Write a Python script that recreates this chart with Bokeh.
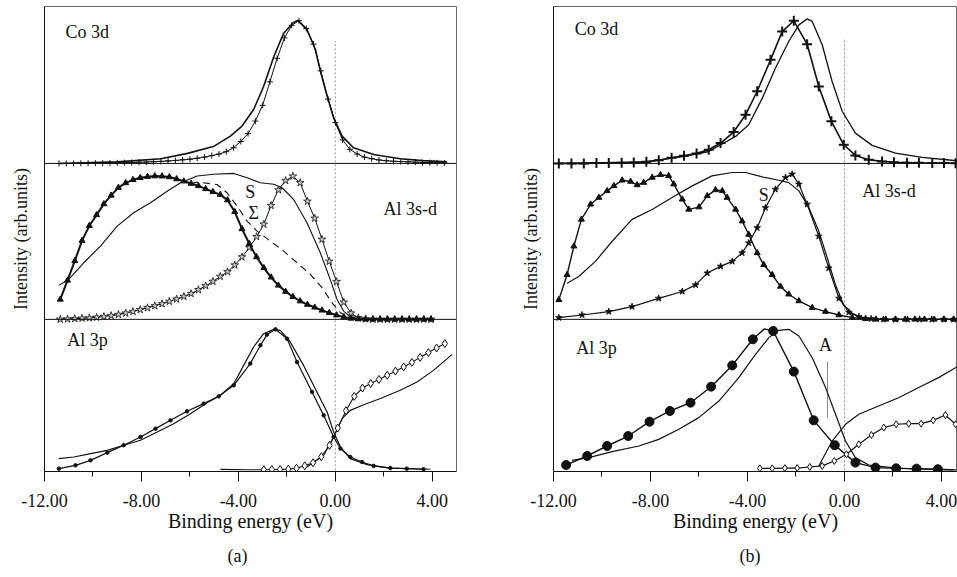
from bokeh.plotting import figure
from bokeh.layouts import row
from bokeh.models import Range1d, FixedTicker, PrintfTickFormatter, Span, Title
from bokeh.core.properties import value
from bokeh.embed import file_html
from bokeh.resources import INLINE

FONT = "'Liberation Serif', 'Times New Roman', serif"
INK = "#111111"

# ---------------- panel (a) ----------------
a_co_solid_E = [-11.4, -9.0, -7.2, -6.1, -5.0, -4.33, -3.85, -3.37, -2.96, -2.54, -2.13, -1.72, -1.54, -1.17,
                -0.82, -0.62, -0.41, -0.07, 0.28, 0.75, 1.58, 2.68, 3.6, 4.6]
a_co_solid_I = [0.0, 0.01, 0.03, 0.064, 0.11, 0.174, 0.238, 0.344, 0.49, 0.68, 0.83, 0.90, 0.91, 0.853,
                0.726, 0.59, 0.47, 0.29, 0.174, 0.10, 0.057, 0.03, 0.018, 0.01]
a_co_plus_E = [-11.4, -11.1, -10.8, -10.5, -10.2, -9.9, -9.6, -9.3, -9.0, -8.7, -8.4, -8.1, -7.8, -7.5, -7.2,
               -6.9, -6.6, -6.3, -6.0, -5.7, -5.4, -5.1, -4.8, -4.5, -4.2, -3.9, -3.6, -3.3, -3.0, -2.7, -2.4,
               -2.1, -1.8, -1.5, -1.2, -0.9, -0.6, -0.3, 0.0, 0.3, 0.6, 0.9, 1.2, 1.5, 1.8, 2.1, 2.4, 2.7, 3.0,
               3.3, 3.6, 3.9, 4.2, 4.5]
a_co_plus_I = [0.0, 0.0, 0.0, 0.001, 0.001, 0.002, 0.002, 0.003, 0.004, 0.005, 0.006, 0.008, 0.009, 0.011, 0.013,
               0.016, 0.019, 0.023, 0.027, 0.033, 0.040, 0.050, 0.060, 0.075, 0.10, 0.14, 0.19, 0.27, 0.37, 0.52,
               0.67, 0.80, 0.88, 0.91, 0.86, 0.76, 0.59, 0.41, 0.26, 0.15, 0.09, 0.06, 0.04, 0.03, 0.022, 0.017,
               0.014, 0.012, 0.010, 0.008, 0.006, 0.005, 0.004, 0.003]

a_sd_tri_E = [-11.35, -11.05, -10.75, -10.45, -10.15, -9.85, -9.55, -9.25, -8.95, -8.65, -8.35, -8.05, -7.75,
              -7.45, -7.15, -6.85, -6.55, -6.25, -5.95, -5.65, -5.35, -5.05, -4.75, -4.45, -4.15, -3.85, -3.55,
              -3.25, -2.95, -2.65, -2.35, -2.05, -1.75, -1.45, -1.15, -0.85, -0.55, -0.25, 0.05, 0.35, 0.65,
              0.95, 1.25, 1.55, 1.85, 2.15, 2.45, 2.75, 3.05, 3.35, 3.65, 3.95]
a_sd_tri_I = [0.128, 0.25, 0.375, 0.505, 0.60, 0.67, 0.74, 0.795, 0.845, 0.875, 0.895, 0.908, 0.915, 0.919,
              0.918, 0.913, 0.90, 0.886, 0.871, 0.856, 0.837, 0.818, 0.80, 0.765, 0.69, 0.58, 0.485, 0.40, 0.33,
              0.27, 0.218, 0.178, 0.145, 0.117, 0.095, 0.077, 0.058, 0.042, 0.027, 0.015, 0.006, 0.002, 0.0,
              0.0, 0.0, 0.0, 0.0, 0.0, 0.0, 0.0, 0.0, 0.0]
a_sd_S_E = [-11.41, -11.0, -10.38, -9.69, -9.0, -8.32, -7.63, -6.94, -6.39, -5.70, -5.02, -4.19, -3.64, -3.09,
            -2.54, -2.20, -1.72, -1.17, -0.62, -0.21, 0.07, 0.34, 0.62, 1.0]
a_sd_S_I = [0.218, 0.256, 0.363, 0.47, 0.598, 0.684, 0.748, 0.822, 0.876, 0.919, 0.931, 0.936, 0.908, 0.876,
            0.866, 0.844, 0.769, 0.62, 0.427, 0.256, 0.128, 0.053, 0.017, 0.0]
a_sd_sigma_E = [-5.95, -5.70, -4.88, -4.47, -4.05, -3.64, -3.23, -2.68, -2.13, -1.58, -1.03, -0.55, -0.14, 0.21,
                0.62, 1.0]
a_sd_sigma_I = [0.871, 0.88, 0.865, 0.812, 0.726, 0.63, 0.566, 0.502, 0.438, 0.363, 0.288, 0.203, 0.107, 0.043,
                0.01, 0.0]
a_sd_star_E = [-11.35, -11.05, -10.75, -10.45, -10.15, -9.85, -9.55, -9.25, -8.95, -8.65, -8.35, -8.05, -7.75,
               -7.45, -7.15, -6.85, -6.55, -6.25, -5.95, -5.65, -5.35, -5.05, -4.75, -4.45, -4.15, -3.85, -3.55,
               -3.25, -2.95, -2.65, -2.35, -2.05, -1.75, -1.45, -1.15, -0.85, -0.55, -0.25, 0.05, 0.35, 0.65,
               0.95, 1.25, 1.55, 1.85, 2.15, 2.45, 2.75, 3.05, 3.35, 3.65, 3.95]
a_sd_star_I = [0.0, 0.002, 0.004, 0.007, 0.009, 0.013, 0.018, 0.024, 0.031, 0.04, 0.05, 0.062, 0.074, 0.087,
               0.10, 0.115, 0.13, 0.147, 0.165, 0.19, 0.215, 0.243, 0.275, 0.305, 0.348, 0.40, 0.46, 0.53, 0.61,
               0.73, 0.83, 0.89, 0.918, 0.876, 0.757, 0.648, 0.513, 0.372, 0.242, 0.11, 0.04, 0.01, 0.003,
               0.0, 0.0, 0.0, 0.0, 0.0, 0.0, 0.0, 0.0, 0.0]

a_p_solid_E = [-11.41, -10.79, -10.1, -9.41, -8.73, -8.04, -7.35, -6.67, -5.98, -5.29, -4.74, -4.19, -3.78,
               -3.37, -2.96, -2.54, -2.27, -1.86, -1.31, -0.76, -0.34, -0.07, 0.21, 0.62, 1.31, 2.27, 3.92]
a_p_solid_I = [0.077, 0.088, 0.11, 0.132, 0.166, 0.199, 0.254, 0.309, 0.375, 0.448, 0.497, 0.574, 0.695, 0.817,
               0.905, 0.934, 0.927, 0.85, 0.695, 0.519, 0.386, 0.254, 0.154, 0.077, 0.038, 0.015, 0.007]
a_p_dot_E = [-11.41, -10.72, -10.1, -9.41, -8.73, -8.04, -7.42, -6.80, -6.12, -5.43, -4.81, -4.19, -3.51, -3.09,
             -2.82, -2.47, -1.99, -1.58, -0.96, -0.48, -0.07, 0.21, 0.62, 1.10, 1.58, 2.27, 2.95, 3.64]
a_p_dot_I = [0.011, 0.033, 0.066, 0.117, 0.166, 0.221, 0.276, 0.331, 0.391, 0.442, 0.49, 0.563, 0.707, 0.828,
             0.899, 0.934, 0.872, 0.717, 0.519, 0.364, 0.221, 0.144, 0.088, 0.055, 0.029, 0.015, 0.011, 0.007]
a_p_dia_E = [-4.74, -3.6, -2.95, -2.62, -2.28, -1.94, -1.60, -1.26, -0.92, -0.58, -0.24, 0.10, 0.44, 0.78, 1.12,
             1.46, 1.80, 2.14, 2.48, 2.82, 3.16, 3.50, 3.84, 4.18, 4.52]
a_p_dia_I = [0.006, 0.004, 0.004, 0.005, 0.006, 0.008, 0.014, 0.03, 0.05, 0.09, 0.165, 0.28, 0.395, 0.49, 0.545,
             0.575, 0.602, 0.63, 0.657, 0.685, 0.715, 0.748, 0.78, 0.81, 0.84]
a_p_rise_E = [-1.17, -0.48, -0.07, 0.28, 0.62, 1.17, 1.86, 2.68, 3.37, 4.05, 4.81]
a_p_rise_I = [0.022, 0.099, 0.221, 0.342, 0.397, 0.435, 0.475, 0.53, 0.585, 0.662, 0.766]

# ---------------- panel (b) ----------------
b_co_plus_E = [-11.78, -11.26, -10.75, -10.23, -9.72, -9.19, -8.69, -8.17, -7.66, -7.13, -6.62, -6.10, -5.60,
               -5.11, -4.57, -4.08, -3.60, -3.05, -2.57, -2.09, -1.54, -1.06, -0.54, -0.03, 0.45, 1.00, 1.55,
               2.04, 2.58, 3.07, 3.62, 4.10, 4.58]
b_co_plus_I = [0.0, 0.0, 0.0, 0.002, 0.003, 0.004, 0.006, 0.01, 0.02, 0.036, 0.049, 0.064, 0.087, 0.13, 0.20,
               0.31, 0.46, 0.66, 0.84, 0.909, 0.76, 0.49, 0.268, 0.119, 0.051, 0.023, 0.013, 0.008, 0.005,
               0.004, 0.003, 0.002, 0.001]
b_co_solid_E = [-11.8, -8.2, -6.6, -5.6, -4.49, -3.95, -3.39, -2.85, -2.30, -1.88, -1.54, -1.33, -0.92, -0.51,
                -0.09, 0.45, 1.14, 2.10, 3.20, 4.65]
b_co_solid_I = [0.0, 0.01, 0.045, 0.076, 0.172, 0.246, 0.416, 0.607, 0.777, 0.883, 0.921, 0.905, 0.756, 0.522,
                0.331, 0.193, 0.115, 0.066, 0.038, 0.017]

b_sd_tri_E = [-11.78, -11.44, -11.16, -10.85, -10.47, -10.13, -9.79, -9.51, -9.17, -8.82, -8.55, -8.28, -7.93,
              -7.59, -7.25, -7.04, -6.69, -6.42, -6.0, -5.66, -5.32, -5.04, -4.84, -4.49, -4.22, -3.95, -3.6,
              -3.33, -2.98, -2.64, -2.30, -1.88, -1.33, -0.78, -0.23, 0.32, 0.87, 1.3, 1.7, 2.1, 2.5, 2.9, 3.3,
              3.7, 4.1, 4.5]
b_sd_tri_I = [0.125, 0.286, 0.469, 0.641, 0.738, 0.781, 0.824, 0.856, 0.892, 0.884, 0.862, 0.877, 0.91, 0.927,
              0.921, 0.867, 0.77, 0.705, 0.72, 0.792, 0.83, 0.824, 0.781, 0.705, 0.63, 0.544, 0.426, 0.35, 0.286,
              0.211, 0.161, 0.118, 0.075, 0.05, 0.028, 0.011, 0.004, 0.0, 0.0, 0.0, 0.0, 0.0, 0.0, 0.0, 0.0, 0.0]
b_sd_S_E = [-11.44, -10.96, -10.27, -9.58, -8.76, -7.93, -7.11, -6.28, -5.46, -4.63, -4.08, -3.39, -2.71, -2.30,
            -1.88, -1.47, -1.06, -0.71, -0.37, -0.03, 0.32, 0.73, 1.2, 4.5]
b_sd_S_I = [0.232, 0.275, 0.372, 0.501, 0.641, 0.705, 0.781, 0.856, 0.92, 0.942, 0.942, 0.914, 0.892, 0.877,
            0.824, 0.716, 0.566, 0.394, 0.221, 0.092, 0.039, 0.01, 0.0, 0.0]
b_sd_star_E = [-11.78, -10.82, -9.72, -8.76, -7.66, -6.69, -6.14, -5.66, -5.11, -4.63, -4.22, -3.95, -3.6,
               -3.26, -2.85, -2.43, -2.16, -1.88, -1.54, -1.06, -0.65, -0.23, 0.18, 0.59, 1.1, 1.6, 2.1, 2.6,
               3.1, 3.6, 4.1, 4.5]
b_sd_star_I = [0.011, 0.028, 0.05, 0.082, 0.135, 0.179, 0.221, 0.297, 0.34, 0.372, 0.426, 0.49, 0.587, 0.716,
               0.834, 0.91, 0.931, 0.867, 0.738, 0.533, 0.329, 0.135, 0.045, 0.017, 0.004, 0.0, 0.0, 0.0, 0.0,
               0.0, 0.0, 0.0]

b_p_circle_E = [-11.48, -10.61, -9.79, -8.92, -8.04, -7.20, -6.35, -5.50, -4.63, -3.78, -2.94, -2.09, -1.27,
                -0.40, 0.45, 1.28, 2.13, 2.97, 3.85]
b_p_circle_I = [0.035, 0.095, 0.161, 0.227, 0.322, 0.393, 0.448, 0.554, 0.695, 0.868, 0.923, 0.654, 0.331,
                0.166, 0.051, 0.018, 0.013, 0.011, 0.007]
b_p_circle_line_E = [-11.48, -10.61, -9.79, -8.92, -8.04, -7.20, -6.35, -5.50, -4.63, -3.78, -3.3, -2.94, -2.09,
                     -1.27, -0.40, 0.45, 1.28, 2.13, 2.97, 3.85, 4.6]
b_p_circle_line_I = [0.035, 0.095, 0.161, 0.227, 0.322, 0.393, 0.448, 0.554, 0.695, 0.868, 0.937, 0.923, 0.654,
                     0.331, 0.166, 0.051, 0.018, 0.013, 0.011, 0.007, 0.003]
b_p_solid_E = [-11.23, -10.54, -9.58, -8.48, -7.66, -6.83, -6.01, -5.18, -4.36, -3.67, -3.12, -2.71, -2.30, -1.88,
               -1.33, -0.78, -0.37, 0.04, 0.45, 1.0, 1.97, 2.79, 4.5]
b_p_solid_I = [0.066, 0.084, 0.124, 0.161, 0.205, 0.272, 0.349, 0.459, 0.614, 0.768, 0.879, 0.927, 0.934, 0.89,
               0.746, 0.548, 0.371, 0.194, 0.084, 0.035, 0.018, 0.009, 0.002]
b_p_dia_E = [-3.49, -2.98, -2.46, -1.95, -1.43, -0.92, -0.42, 0.08, 0.59, 1.11, 1.62, 2.13, 2.65, 3.16, 3.66,
             4.16, 4.58]
b_p_dia_I = [0.013, 0.013, 0.014, 0.015, 0.022, 0.029, 0.062, 0.106, 0.172, 0.234, 0.283, 0.305, 0.309, 0.309,
             0.331, 0.366, 0.305]
b_p_rise_E = [-1.06, -0.51, 0.04, 0.59, 1.41, 2.23, 3.06, 3.88, 4.70]
b_p_rise_I = [0.029, 0.194, 0.305, 0.371, 0.426, 0.481, 0.548, 0.614, 0.691]

tick_major = [-12, -8, -4, 0, 4]
tick_minor = [-10, -6, -2, 2]
x_label = "Binding energy (eV)"
y_label = "Intensity (arb.units)"

# stacked bands (offset, height) in the shared vertical scale: Al 3p bottom, Al 3s-d middle, Co 3d top
BAND_P = (0.0, 151.0)
BAND_SD = (151.0, 156.0)
BAND_CO = (307.0, 157.0)
Y_TOP = 464.0

FIG_H = 577
BORDER_TOP = 6
BORDER_BOTTOM = 106


def Y(band, v):
    return band[0] + band[1] * v


def make_fig(width, xmax, border_left, border_right, label_standoff, caption, caption_offset):
    p = figure(width=width, height=FIG_H, x_range=Range1d(-12, xmax), y_range=Range1d(-1.2, Y_TOP),
               output_backend="svg", toolbar_location=None, tools="",
               min_border_left=border_left, min_border_right=border_right,
               min_border_top=BORDER_TOP, min_border_bottom=BORDER_BOTTOM)
    p.grid.visible = False
    p.background_fill_color = "white"
    p.border_fill_color = "white"
    p.outline_line_color = "#666666"
    p.outline_line_width = 1

    ax = p.xaxis[0]
    ax.ticker = FixedTicker(ticks=tick_major, minor_ticks=tick_minor)
    ax.formatter = PrintfTickFormatter(format="%.2f")
    ax.major_tick_out = 10
    ax.major_tick_in = 0
    ax.minor_tick_out = 5
    ax.minor_tick_in = 0
    ax.axis_line_color = INK
    ax.major_tick_line_color = INK
    ax.minor_tick_line_color = INK
    ax.major_label_text_font = FONT
    ax.major_label_text_font_size = "18px"
    ax.major_label_text_line_height = 0.9
    ax.major_label_text_color = INK
    ax.major_label_standoff = 12
    ax.axis_label = x_label
    ax.axis_label_text_font = FONT
    ax.axis_label_text_font_size = "20px"
    ax.axis_label_text_line_height = 0.9
    ax.axis_label_text_font_style = "normal"
    ax.axis_label_text_color = INK
    ax.axis_label_standoff = 0

    ay = p.yaxis[0]
    ay.ticker = FixedTicker(ticks=[])
    ay.major_tick_line_color = None
    ay.minor_tick_line_color = None
    ay.axis_line_color = INK
    ay.major_label_standoff = 0
    ay.axis_label = y_label
    ay.axis_label_text_font = FONT
    ay.axis_label_text_font_size = "18px"
    ay.axis_label_text_font_style = "normal"
    ay.axis_label_text_color = INK
    ay.axis_label_standoff = label_standoff

    for band in (BAND_SD, BAND_CO):
        p.add_layout(Span(location=band[0], dimension="width", line_color=INK, line_width=1))

    p.add_layout(Title(text=caption, align="left", offset=caption_offset, text_font=FONT,
                       text_font_size="18px", text_font_style="normal", text_color=INK,
                       text_line_height=0.9, vertical_align="bottom", standoff=19), "below")
    return p


def draw(p, E, I, band, lw=1.0, dash="solid", marker=None, size=6, fill=INK, mlw=1.0, mark_from=0,
         mE=None, mI=None):
    y = [Y(band, v) for v in I]
    p.line(E, y, line_color=INK, line_width=lw, line_dash=dash)
    if marker:
        xe = E if mE is None else mE
        yi = y if mI is None else [Y(band, v) for v in mI]
        p.scatter(xe[mark_from:], yi[mark_from:], marker=marker, size=size, line_color=INK,
                  fill_color=fill, line_width=mlw)


def label(p, x, band, v, txt, align="left", size="18px"):
    p.text(x=[x], y=[Y(band, v)], text=[txt], text_font=value(FONT), text_font_size=value(size),
           text_align=align, text_baseline="middle", text_color=INK)


def zero_line(p, top_v):
    p.segment(x0=[0], y0=[0], x1=[0], y1=[Y(BAND_CO, top_v)], line_color="#9a9a9a", line_width=1,
              line_dash="2 2")


# ---- (a) ----
pa = make_fig(500, 5.0, 44, 44, 14, "(a)", 183)
zero_line(pa, 0.78)
draw(pa, a_co_solid_E, a_co_solid_I, BAND_CO, lw=1.6)
draw(pa, a_co_plus_E, a_co_plus_I, BAND_CO, lw=1.0, marker="cross", size=6, mlw=1.0)
draw(pa, a_sd_S_E, a_sd_S_I, BAND_SD, lw=1.1)
draw(pa, a_sd_sigma_E, a_sd_sigma_I, BAND_SD, lw=1.1, dash="7 5")
draw(pa, a_sd_star_E, a_sd_star_I, BAND_SD, lw=1.0, marker="star", size=8, fill="#c8c8c8", mlw=0.8)
draw(pa, a_sd_tri_E, a_sd_tri_I, BAND_SD, lw=2.0, marker="triangle", size=6, mlw=1.0)
draw(pa, a_p_solid_E, a_p_solid_I, BAND_P, lw=1.2)
draw(pa, a_p_dot_E, a_p_dot_I, BAND_P, lw=1.2, marker="circle", size=3.5)
draw(pa, a_p_rise_E, a_p_rise_I, BAND_P, lw=1.1)
draw(pa, a_p_dia_E, a_p_dia_I, BAND_P, lw=1.1, marker="diamond", size=8, fill="white", mlw=1.0, mark_from=2)
label(pa, -11.13, BAND_CO, 0.84, "Co 3d")
label(pa, 3.09, BAND_SD, 0.705, "Al 3s-d", align="center")
label(pa, -3.51, BAND_SD, 0.82, "S", align="center")
label(pa, -3.37, BAND_SD, 0.684, "Σ", align="center")
label(pa, -11.06, BAND_P, 0.86, "Al 3p")

# ---- (b) ----
pb = make_fig(457, 4.66, 53, 0, 13, "(b)", 186)
zero_line(pb, 0.80)
pb.segment(x0=[-0.70], y0=[Y(BAND_P, 0.35)], x1=[-0.70], y1=[Y(BAND_P, 0.72)], line_color="#8a8a8a",
           line_width=1)
draw(pb, b_co_solid_E, b_co_solid_I, BAND_CO, lw=1.3)
draw(pb, b_co_plus_E, b_co_plus_I, BAND_CO, lw=1.6, marker="cross", size=10, mlw=2.0)
draw(pb, b_sd_S_E, b_sd_S_I, BAND_SD, lw=1.2)
draw(pb, b_sd_star_E, b_sd_star_I, BAND_SD, lw=1.2, marker="star", size=7, mlw=0.8)
draw(pb, b_sd_tri_E, b_sd_tri_I, BAND_SD, lw=1.4, marker="triangle", size=6, mlw=1.0)
draw(pb, b_p_solid_E, b_p_solid_I, BAND_P, lw=1.2)
draw(pb, b_p_circle_line_E, b_p_circle_line_I, BAND_P, lw=1.4, marker="circle", size=9,
     mE=b_p_circle_E, mI=b_p_circle_I)
draw(pb, b_p_rise_E, b_p_rise_I, BAND_P, lw=1.2)
draw(pb, b_p_dia_E, b_p_dia_I, BAND_P, lw=1.2, marker="diamond", size=7, fill="white", mlw=1.0)
label(pb, -11.12, BAND_CO, 0.855, "Co 3d")
label(pb, 0.73, BAND_SD, 0.824, "Al 3s-d")
label(pb, -3.33, BAND_SD, 0.80, "S", align="center")
label(pb, -11.06, BAND_P, 0.81, "Al 3p")
label(pb, -0.78, BAND_P, 0.83, "A", align="center")

layout = row(pa, pb)
open("out.html", "w").write(file_html(layout, INLINE))
